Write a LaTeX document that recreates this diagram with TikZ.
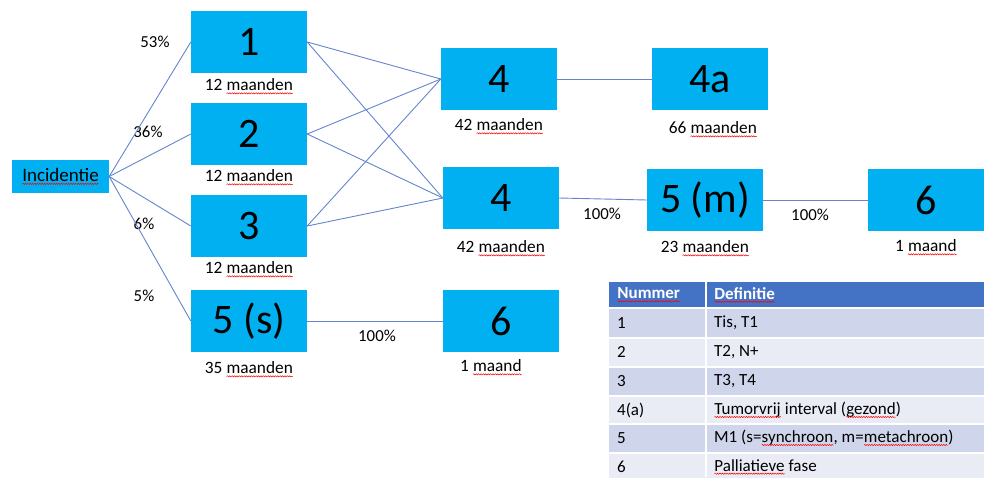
\documentclass[tikz,border=0pt]{standalone}
\usepackage{fontspec}
\setmainfont{Carlito}
\usetikzlibrary{decorations.pathmorphing}

\definecolor{boxblue}{HTML}{00B0F0}
\definecolor{linkblue}{RGB}{100,132,206}
\definecolor{headblue}{HTML}{4472C4}
\definecolor{rowdark}{HTML}{CFD5EA}
\definecolor{rowlight}{HTML}{E9EBF5}

% red wavy underline under a word
\newcommand\spell[1]{\tikz[baseline=(w.base),x=1pt,y=1pt]{%
    \node[anchor=base,shape=rectangle,inner sep=0pt,outer sep=0pt,fill=none,draw=none,minimum size=0pt] (w) at (0,0) {#1};
    \draw[red,line width=0.5pt,decorate,decoration={snake,amplitude=0.6pt,segment length=2.4pt}]
        ([yshift=-2.4pt]w.base west) -- ([yshift=-2.4pt]w.base east);}}

\begin{document}
\begin{tikzpicture}[x=1pt,y=-1pt]
    \tikzstyle{stage} = [fill=boxblue,minimum width=116pt,minimum height=62pt,inner sep=0pt,font=\fontsize{42}{42}\selectfont]
    \tikzstyle{dur} = [font=\fontsize{17.3}{17.3}\selectfont,inner sep=0pt]
    \tikzstyle{pct} = [font=\fontsize{16.8}{16.8}\selectfont,inner sep=0pt]
    \tikzstyle{link} = [linkblue,line width=0.9pt]
    \tikzstyle{cell} = [font=\fontsize{17}{17}\selectfont,inner sep=0pt,anchor=west]

    \useasboundingbox (0,0) rectangle (984,477);

    \node[fill=boxblue,minimum width=97pt,minimum height=33pt,inner sep=0pt,font=\fontsize{19}{19}\selectfont] (inc) at (60.5,176.5) {\spell{Incidentie}};

    \node[stage,label={[dur,label distance=5.5pt]below:12 \spell{maanden}}] (s1) at (249,42) {1};
    \node[stage,label={[dur,label distance=4.5pt]below:12 \spell{maanden}}] (s2) at (249,134) {2};
    \node[stage,label={[dur,label distance=4.5pt]below:12 \spell{maanden}}] (s3) at (249,226) {3};
    \node[stage,label={[dur,label distance=9.5pt]below:35 \spell{maanden}}] (s5) at (249,321) {5 (s)};

    \node[stage,label={[dur,label distance=8.5pt]below:42 \spell{maanden}}] (v4) at (499,79) {4};
    \node[stage,label={[dur,label distance=11.5pt,xshift=3pt]below:66 \spell{maanden}}] (v4a) at (710,79) {4a};
    \node[stage,label={[dur,label distance=11.5pt]below:42 \spell{maanden}}] (m4) at (501,198) {4};
    \node[stage,label={[dur,label distance=9.5pt]below:23 \spell{maanden}}] (m5) at (705,200) {5 (m)};
    \node[stage,label={[dur,label distance=8.5pt]below:1 \spell{maand}}] (m6) at (926,200) {6};
    \node[stage,label={[dur,label distance=7.5pt,xshift=-10pt]below:1 \spell{maand}}] (p6) at (501,321) {6};

    \node[pct] (p53) at (155,42) {53\%};
    \node[pct] (p36) at (148,132) {36\%};
    \node[pct] (p6a) at (144,224) {6\%};
    \node[pct] (p5) at (144,296) {5\%};
    \node[pct] (q1) at (377,336) {100\%};
    \node[pct] (q2) at (602,214) {100\%};
    \node[pct] (q3) at (810,215) {100\%};

    \foreach \t in {s1,s2,s3,s5}
        \draw[link] (inc.east) -- (\t.west);
    \foreach \s in {s1,s2,s3}
        \foreach \t in {v4,m4}
            \draw[link] (\s.east) -- (\t.west);
    \draw[link] (v4.east) -- (v4a.west);
    \draw[link] (m4.east) -- (m5.west);
    \draw[link] (m5.east) -- (m6.west);
    \draw[link] (s5.east) -- (p6.west);

    % definitions table
    \fill[headblue] (609,282) rectangle (984,308);
    \foreach \y/\c in {308/rowdark,338/rowlight,367/rowdark,396/rowlight,424/rowdark,453/rowlight}
        \fill[\c] (609,\y) rectangle (984,\y+29);
    \foreach \y in {308,338,367,396,424,453}
        \draw[white,line width=1.5pt] (609,\y) -- (984,\y);
    \draw[white,line width=1.5pt] (706,282) -- (706,477);

    \node[cell,text=white,font=\fontsize{17}{17}\selectfont\bfseries] (hn) at (617,295) {\spell{Nummer}};
    \node[cell,text=white,font=\fontsize{17}{17}\selectfont\bfseries] (hd) at (714,295) {\spell{Definitie}};
    \foreach \n/\y/\txt [count=\i] in {1/323/{Tis, T1},2/352/{T2, N+},3/381/{T3, T4},4(a)/410/{\spell{Tumorvrij} interval (\spell{gezond})},5/438/{M1 (s=\spell{synchroon}, m=\spell{metachroon})},6/467/{\spell{Palliatieve} fase}}{
        \node[cell] (n\i) at (617,\y) {\n};
        \node[cell] (d\i) at (714,\y) {\txt};
    }
\end{tikzpicture}
\end{document}
